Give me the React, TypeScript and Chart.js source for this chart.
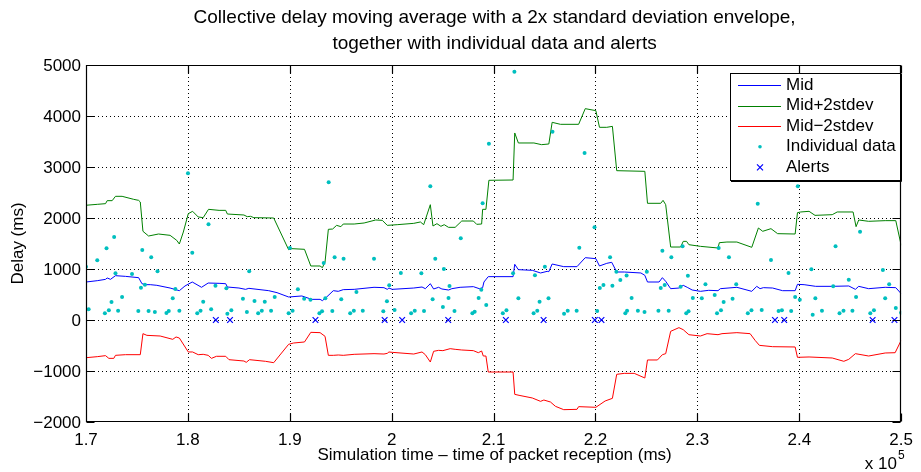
import React, { useEffect, useRef } from "react";
import { Chart, registerables } from "chart.js";

Chart.register(...registerables);

const FONT = '"Liberation Sans", Arial, Helvetica, sans-serif';

// Moving average of the collective delay (ms) over simulation time (ms)
const midX = [170000, 171105, 171917, 172079, 172404, 172892, 173866, 175166, 175491, 175816, 176303, 176953, 178252, 179162, 179715, 180429, 181339, 181989, 183061, 183711, 183873, 185011, 185660, 185985, 187935, 188747, 189884, 191183, 192158, 192971, 193198, 193620, 194270, 194757, 195245, 196317, 198266, 199241, 199566, 199728, 200053, 202165, 202977, 203302, 203790, 204115, 204602, 204927, 205577, 205902, 206714, 208014, 208598, 208923, 209053, 209475, 211912, 212075, 212432, 213797, 214609, 215259, 215421, 215746, 216883, 218183, 218995, 220035, 220392, 221107, 221594, 222082, 222829, 224454, 224843, 225103, 226240, 226565, 226890, 227378, 228190, 228612, 229002, 229489, 230302, 231114, 232024, 232251, 233876, 235338, 235825, 236150, 236475, 237385, 238359, 239594, 239821, 240471, 241608, 243233, 244857, 245507, 245832, 246807, 248431, 249471, 250000];
const midY = [745, 771, 797, 824, 797, 869, 856, 830, 712, 693, 693, 680, 627, 575, 667, 745, 641, 725, 719, 712, 647, 627, 601, 621, 575, 536, 451, 471, 405, 405, 379, 451, 575, 562, 595, 601, 641, 634, 601, 627, 601, 627, 647, 614, 712, 608, 641, 608, 588, 614, 641, 654, 614, 634, 745, 850, 850, 1092, 987, 974, 922, 954, 948, 1098, 1046, 1046, 1222, 1203, 1059, 1111, 1131, 941, 941, 922, 876, 745, 745, 830, 758, 614, 627, 680, 641, 588, 562, 582, 575, 614, 641, 562, 660, 614, 634, 627, 575, 575, 699, 693, 660, 660, 667, 601, 660, 614, 641, 634, 516];

// Upper envelope: moving average + 2 standard deviations
const upperX = [170000, 171105, 171917, 172079, 172567, 172892, 173541, 174679, 175166, 175328, 175588, 176140, 177115, 178252, 178902, 179162, 179552, 180039, 180462, 181014, 181502, 182022, 183061, 183711, 183873, 185498, 185823, 186147, 186472, 188422, 189884, 190209, 191443, 192061, 192971, 193198, 193458, 193783, 194205, 194595, 195017, 195245, 196317, 197292, 198429, 199079, 199566, 200541, 202165, 202815, 203140, 203790, 204050, 204440, 204830, 205154, 205577, 206227, 206876, 208014, 208338, 208826, 208923, 209248, 209540, 211912, 212075, 212432, 213959, 214707, 215421, 215746, 216558, 218345, 218995, 220035, 220392, 221107, 221659, 222082, 224843, 225103, 226403, 226630, 226890, 227378, 228352, 228612, 228937, 229165, 230302, 232024, 232154, 232901, 233876, 235338, 235987, 236410, 237222, 237872, 239594, 239821, 240146, 240959, 241543, 243233, 243720, 245280, 245572, 245832, 246807, 248431, 249471, 250000];
const upperY = [2250, 2268, 2281, 2340, 2340, 2425, 2425, 2366, 2346, 2314, 1739, 1647, 1686, 1660, 1562, 1490, 1725, 2085, 2131, 2020, 2007, 2170, 2150, 2150, 2078, 2059, 2026, 2033, 2007, 2000, 1379, 1399, 1386, 1059, 1059, 1026, 1137, 1778, 1784, 1856, 1830, 1882, 1882, 1902, 1961, 1954, 1856, 1869, 1895, 1922, 1869, 2261, 1843, 1889, 1837, 1869, 1817, 1817, 1941, 1941, 1876, 1882, 2170, 2170, 2739, 2745, 3667, 3471, 3471, 3438, 3451, 3876, 3837, 3837, 4144, 4105, 3778, 3778, 3797, 2928, 2915, 2288, 2288, 2346, 2261, 1431, 1431, 1542, 1542, 1477, 1444, 1412, 1516, 1529, 1529, 1425, 1804, 1739, 1791, 1693, 1686, 2105, 2118, 2131, 2052, 2065, 2118, 2118, 1830, 1961, 1935, 1948, 1948, 1464];

// Lower envelope: moving average - 2 standard deviations
const lowerX = [170000, 171105, 171917, 172242, 172729, 172892, 173866, 175328, 175588, 175978, 177278, 178512, 178837, 179162, 180039, 180462, 181014, 181502, 181989, 182314, 182801, 183711, 184035, 185498, 185725, 186050, 187610, 188422, 189884, 190371, 191443, 192061, 192971, 193458, 193783, 194270, 194757, 195245, 196317, 198266, 199241, 199566, 199728, 200053, 202165, 202977, 203302, 203790, 204115, 204602, 205024, 205739, 206227, 206876, 208014, 208501, 208826, 208988, 209248, 209475, 211912, 212075, 212497, 213797, 214609, 214934, 215583, 216071, 216883, 218183, 218345, 220035, 220945, 221659, 222082, 222829, 223804, 224843, 225103, 226078, 226565, 226890, 227378, 228190, 228612, 229165, 230302, 230952, 232024, 232414, 233876, 235175, 235663, 236085, 237385, 239594, 239821, 240959, 243233, 244370, 244857, 245507, 246807, 248431, 249406, 250000];
const lowerY = [-739, -719, -699, -752, -752, -693, -680, -680, -268, -301, -314, -379, -333, -353, -627, -627, -680, -673, -693, -752, -712, -712, -778, -804, -830, -778, -810, -837, -477, -451, -431, -242, -248, -320, -693, -693, -686, -693, -673, -660, -667, -654, -627, -634, -667, -627, -680, -824, -614, -595, -601, -562, -575, -588, -601, -641, -608, -706, -706, -1020, -1020, -1458, -1477, -1529, -1595, -1569, -1608, -1693, -1758, -1752, -1699, -1712, -1588, -1536, -1065, -1046, -1046, -1137, -784, -784, -680, -660, -222, -150, -190, -288, -314, -268, -288, -268, -248, -268, -399, -497, -523, -529, -732, -725, -745, -810, -771, -660, -706, -647, -641, -399];

// Individual packet delays
const sampleX = [170000, 170260, 171105, 171852, 172014, 172242, 172502, 172762, 172892, 173151, 173541, 174516, 175134, 175393, 175523, 175783, 176140, 176400, 176758, 177018, 177895, 178122, 178512, 178772, 179162, 180007, 180429, 180916, 181241, 181502, 182022, 182282, 182704, 183776, 183873, 184263, 185400, 185790, 186017, 186537, 186895, 187252, 187545, 188162, 188519, 189884, 190014, 190274, 190794, 191411, 192028, 192905, 193165, 193328, 193490, 193815, 194172, 194400, 195050, 195277, 195927, 196284, 196541, 197162, 198266, 199176, 199533, 199761, 200281, 200898, 201905, 202263, 202912, 203172, 203790, 204017, 204277, 205024, 205122, 205577, 205674, 206162, 206779, 207916, 208144, 208533, 208793, 208923, 209280, 209540, 210905, 211262, 211912, 212042, 212432, 213927, 214057, 214284, 214511, 215031, 215389, 215779, 216916, 217273, 218150, 218410, 218930, 219905, 220165, 220425, 220782, 221432, 221659, 222049, 222439, 222926, 223051, 223100, 223544, 224161, 224811, 225038, 226175, 226403, 226565, 226793, 227183, 227443, 228352, 228547, 228905, 229067, 229132, 229554, 230432, 230790, 231699, 231926, 232089, 232316, 232576, 233096, 233453, 233811, 234948, 235306, 235922, 236313, 237222, 237969, 238294, 238944, 239204, 239594, 239854, 240049, 241186, 241316, 241576, 242226, 243330, 243558, 243948, 244338, 244857, 245215, 245572, 245962, 246969, 247327, 248204, 248431, 248821, 249471, 249991];
const sampleY = [1046, 209, 1170, 131, 1405, 190, 353, 1627, 915, 183, 451, 902, 176, 634, 1373, 693, 176, 1229, 157, 954, 137, 176, 425, 608, 183, 2876, 1320, 131, 183, 359, 1876, 209, 673, 621, 124, 190, 418, 157, 954, 373, 131, 183, 359, 183, 451, 131, 1412, 183, 601, 418, 399, 131, 170, 1118, 425, 2699, 176, 1229, 405, 1203, 131, 183, 548, 183, 1203, 170, 366, 680, 196, 922, 131, 183, 915, 176, 2621, 405, 1203, 255, 1000, 431, 667, 176, 1601, 131, 163, 431, 595, 2288, 294, 3458, 131, 190, 915, 4869, 425, 131, 876, 183, 359, 1046, 425, 3693, 124, 183, 183, 1418, 3275, 1817, 176, 627, 686, 1229, 673, 945, 783, 131, 873, 183, 431, 183, 157, 948, 183, 627, 1359, 686, 183, 1229, 654, 1444, 131, 869, 170, 431, 425, 699, 490, 131, 1412, 190, 353, 1229, 418, 699, 131, 190, 2281, 196, 1176, 176, 190, 922, 176, 451, 2621, 399, 993, 105, 425, 183, 660, 1444, 131, 183, 791, 183, 451, 1732, 131, 190, 980, 425, 699, 235, 144];

// Times at which an alert was raised (plotted on the zero line)
const alertX = [182737, 184133, 192515, 199309, 201028, 205548, 211201, 214905, 219935, 220587, 237612, 238522, 247197, 249341];
const alertY = [0, 0, 0, 0, 0, 0, 0, 0, 0, 0, 0, 0, 0, 0];

const xTicks = [170000, 180000, 190000, 200000, 210000, 220000, 230000, 240000, 250000];
const yTicks = [-2000, -1000, 0, 1000, 2000, 3000, 4000, 5000];

const titleLines = [
  "Collective delay moving average with a 2x standard deviation envelope,",
  "together with individual data and alerts",
];
const xLabel = "Simulation time \u2013 time of packet reception (ms)";
const yLabel = "Delay (ms)";
const legendLabels = ["Mid", "Mid+2stdev", "Mid\u22122stdev", "Individual data", "Alerts"];

const BLUE = "rgb(0,0,255)";
const GREEN = "rgb(0,128,0)";
const RED = "rgb(255,0,0)";
const CYAN = "rgb(0,191,191)";

const pts = (xs: number[], ys: number[]) => xs.map((x, i) => ({ x, y: ys[i] }));

const fmtX = (v: number) => String(parseFloat((v / 1e5).toFixed(1)));
const fmtY = (v: number) => (v < 0 ? "\u2212" + String(-v) : String(v));

const framePlugin = {
  id: "matlabFrame",
  beforeDatasetsDraw(chart: any) {
    const { ctx, chartArea: a, scales } = chart;
    const xs = scales.x;
    const ys = scales.y;
    ctx.save();
    ctx.strokeStyle = "#000";
    ctx.lineWidth = 1;
    ctx.setLineDash([1, 3]);
    ctx.beginPath();
    for (const v of xTicks) {
      if (v === xs.min || v === xs.max) continue;
      const px = Math.round(xs.getPixelForValue(v)) + 0.5;
      ctx.moveTo(px, a.top);
      ctx.lineTo(px, a.bottom);
    }
    for (const v of yTicks) {
      if (v === ys.min || v === ys.max) continue;
      const py = Math.round(ys.getPixelForValue(v)) + 0.5;
      ctx.moveTo(a.left, py);
      ctx.lineTo(a.right, py);
    }
    ctx.stroke();
    ctx.restore();
  },
  afterDatasetsDraw(chart: any) {
    const { ctx, chartArea: a, scales } = chart;
    const xs = scales.x;
    const ys = scales.y;
    const L = Math.round(a.left) + 0.5;
    const R = Math.round(a.right) - 0.5;
    const T = Math.round(a.top) + 0.5;
    const B = Math.round(a.bottom) - 0.5;
    ctx.save();
    ctx.strokeStyle = "#000";
    ctx.lineWidth = 1.2;
    ctx.beginPath();
    ctx.rect(L, T, R - L, B - T);
    const tl = 8;
    for (const v of xTicks) {
      const px = Math.round(xs.getPixelForValue(v)) + 0.5;
      ctx.moveTo(px, B);
      ctx.lineTo(px, B - tl);
      ctx.moveTo(px, T);
      ctx.lineTo(px, T + tl);
    }
    for (const v of yTicks) {
      const py = Math.round(ys.getPixelForValue(v)) + 0.5;
      ctx.moveTo(L, py);
      ctx.lineTo(L + tl, py);
      ctx.moveTo(R, py);
      ctx.lineTo(R - tl, py);
    }
    ctx.stroke();

    // y tick labels, right-aligned just left of the axis
    ctx.fillStyle = "#000";
    ctx.font = `17px ${FONT}`;
    ctx.textAlign = "right";
    ctx.textBaseline = "middle";
    for (const v of yTicks) {
      ctx.fillText(fmtY(v), a.left - 5, ys.getPixelForValue(v) + 1);
    }
    ctx.restore();
  },
  afterDraw(chart: any) {
    const { ctx, chartArea: a } = chart;
    const cx = (a.left + a.right) / 2 + 1;
    ctx.save();
    ctx.fillStyle = "#000";

    // title
    ctx.font = `19px ${FONT}`;
    ctx.textAlign = "center";
    ctx.textBaseline = "middle";
    ctx.fillText(titleLines[0], cx, 18);
    ctx.fillText(titleLines[1], cx, 44);

    // axis labels
    ctx.font = `17px ${FONT}`;
    ctx.fillText(xLabel, cx, 455);
    ctx.save();
    ctx.translate(18, (a.top + a.bottom) / 2);
    ctx.rotate(-Math.PI / 2);
    ctx.fillText(yLabel, 0, 0);
    ctx.restore();

    // x scale factor
    ctx.textAlign = "right";
    ctx.fillText("x 10", 897, 464);
    ctx.font = `12px ${FONT}`;
    ctx.textAlign = "left";
    ctx.fillText("5", 898, 456);

    // legend
    const bx = 730, by = 73, bw = 170, bh = 107;
    ctx.fillStyle = "#fff";
    ctx.fillRect(bx, by, bw, bh);
    ctx.strokeStyle = "#000";
    ctx.lineWidth = 1;
    ctx.strokeRect(bx + 0.5, by + 0.5, bw, bh);
    ctx.beginPath();
    ctx.moveTo(bx + bw + 1.5, by + 1);
    ctx.lineTo(bx + bw + 1.5, by + bh + 1.5);
    ctx.lineTo(bx + 1, by + bh + 1.5);
    ctx.stroke();

    const rowY = (i: number) => 85 + i * 20.6;
    const lineColors = [BLUE, GREEN, RED];
    for (let i = 0; i < 3; i++) {
      ctx.strokeStyle = lineColors[i];
      ctx.lineWidth = 1;
      ctx.beginPath();
      ctx.moveTo(738, Math.round(rowY(i)) + 0.5);
      ctx.lineTo(781, Math.round(rowY(i)) + 0.5);
      ctx.stroke();
    }
    ctx.fillStyle = CYAN;
    ctx.beginPath();
    ctx.arc(760, rowY(3), 1.8, 0, Math.PI * 2);
    ctx.fill();
    ctx.strokeStyle = BLUE;
    ctx.lineWidth = 1.2;
    ctx.beginPath();
    const ay = rowY(4);
    ctx.moveTo(757, ay - 3);
    ctx.lineTo(763, ay + 3);
    ctx.moveTo(757, ay + 3);
    ctx.lineTo(763, ay - 3);
    ctx.stroke();

    ctx.fillStyle = "#000";
    ctx.font = `17px ${FONT}`;
    ctx.textAlign = "left";
    ctx.textBaseline = "middle";
    legendLabels.forEach((t, i) => ctx.fillText(t, 786, rowY(i)));
    ctx.restore();
  },
};

export default function App() {
  const ref = useRef<HTMLCanvasElement | null>(null);

  useEffect(() => {
    if (!ref.current) return;
    const chart = new Chart(ref.current, {
      type: "scatter",
      data: {
        datasets: [
          {
            label: legendLabels[0],
            data: pts(midX, midY),
            showLine: true,
            borderColor: BLUE,
            borderWidth: 1,
            pointRadius: 0,
            order: 5,
          },
          {
            label: legendLabels[1],
            data: pts(upperX, upperY),
            showLine: true,
            borderColor: GREEN,
            borderWidth: 1,
            pointRadius: 0,
            order: 4,
          },
          {
            label: legendLabels[2],
            data: pts(lowerX, lowerY),
            showLine: true,
            borderColor: RED,
            borderWidth: 1,
            pointRadius: 0,
            order: 3,
          },
          {
            label: legendLabels[3],
            data: pts(sampleX, sampleY),
            showLine: false,
            backgroundColor: CYAN,
            borderWidth: 0,
            pointRadius: 2,
            order: 2,
          },
          {
            label: legendLabels[4],
            data: pts(alertX, alertY),
            showLine: false,
            pointStyle: "crossRot",
            borderColor: BLUE,
            borderWidth: 1.2,
            pointRadius: 4,
            order: 1,
          },
        ],
      } as any,
      options: {
        animation: false,
        responsive: false,
        devicePixelRatio: 1,
        layout: { padding: { top: 65, right: 14, left: 0, bottom: 0 } },
        plugins: {
          legend: { display: false },
          title: { display: false },
          tooltip: { enabled: false },
        },
        scales: {
          x: {
            type: "linear",
            min: 170000,
            max: 250000,
            grid: { display: false, drawTicks: false },
            border: { display: false },
            afterBuildTicks: (s: any) => {
              s.ticks = xTicks.map((value) => ({ value }));
            },
            afterFit: (s: any) => {
              s.height = 50;
            },
            ticks: {
              autoSkip: false,
              maxRotation: 0,
              padding: 8,
              color: "#000",
              font: { family: FONT, size: 17 },
              callback: (v: any) => fmtX(Number(v)),
            },
          },
          y: {
            type: "linear",
            min: -2000,
            max: 5000,
            grid: { display: false, drawTicks: false },
            border: { display: false },
            afterBuildTicks: (s: any) => {
              s.ticks = yTicks.map((value) => ({ value }));
            },
            afterFit: (s: any) => {
              s.width = 86;
            },
            ticks: { display: false },
          },
        },
      } as any,
      plugins: [framePlugin],
    });
    return () => chart.destroy();
  }, []);

  return (
    <div style={{ position: "fixed", left: 0, top: 0, width: 921, height: 472, background: "#fff" }}>
      <canvas ref={ref} width={921} height={472} style={{ display: "block" }} />
    </div>
  );
}
